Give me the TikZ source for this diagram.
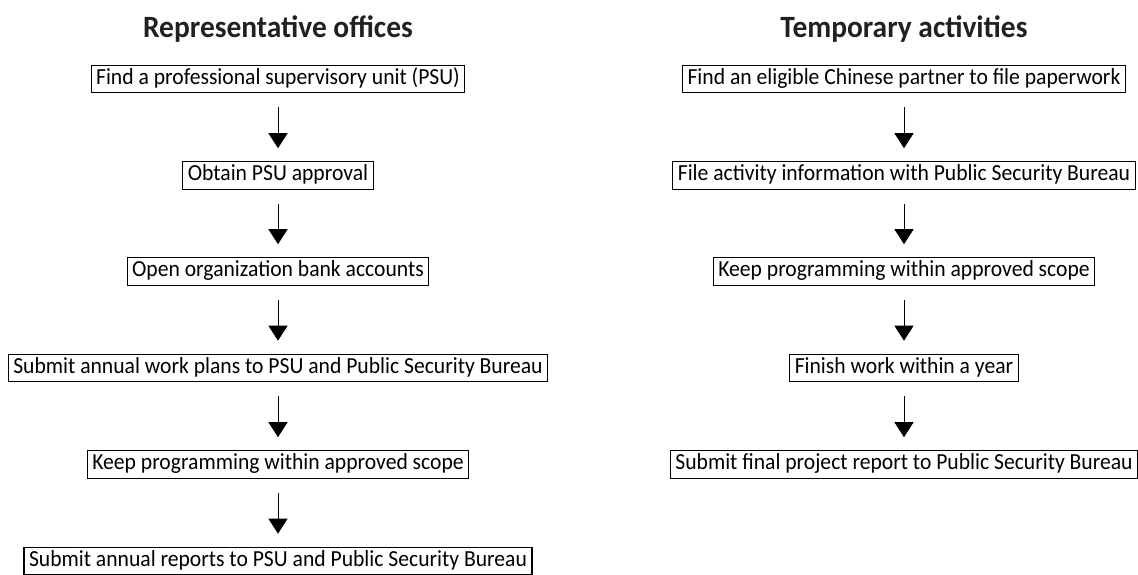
\documentclass[tikz,border=0pt]{standalone}
\usepackage{fontspec}
\setmainfont{Carlito}
\newfontfamily\boxfont[FakeStretch=0.94]{Carlito}
\newfontfamily\titlefont[FakeStretch=0.95]{Carlito Bold}
\usetikzlibrary{arrows.meta}
\tikzset{
  stepbox/.style={draw, line width=1.1pt, fill=white, font=\boxfont\fontsize{23pt}{26pt}\selectfont,
    minimum height=27.5pt, inner xsep=5pt, inner ysep=0pt, text height=15pt, text depth=4.5pt},
  title/.style={font=\titlefont\fontsize{31pt}{35pt}\selectfont, text=black!87},
  flow/.style={line width=1pt, -{Triangle[length=15pt,width=19pt]}, shorten <=14pt, shorten >=13pt}
}
\begin{document}
\begin{tikzpicture}[x=1pt,y=-1pt]
\useasboundingbox (0,0) rectangle (1138,574);
\node[title] (tl) at (278,29) {Representative offices};
\node[title] (tr) at (904,29) {Temporary activities};

\node[stepbox] (l1) at (278,79) {Find a professional supervisory unit (PSU)};
\node[stepbox] (l2) at (278,175.5) {Obtain PSU approval};
\node[stepbox] (l3) at (278,271.5) {Open organization bank accounts};
\node[stepbox] (l4) at (278,368) {Submit annual work plans to PSU and Public Security Bureau};
\node[stepbox] (l5) at (278,464.5) {Keep programming within approved scope};
\node[stepbox] (l6) at (278,561) {Submit annual reports to PSU and Public Security Bureau};

\node[stepbox] (r1) at (904,79) {Find an eligible Chinese partner to file paperwork};
\node[stepbox] (r2) at (904,175.5) {File activity information with Public Security Bureau};
\node[stepbox] (r3) at (904,271.5) {Keep programming within approved scope};
\node[stepbox] (r4) at (904,368) {Finish work within a year};
\node[stepbox] (r5) at (904,464.5) {Submit final project report to Public Security Bureau};

\foreach \a/\b in {l1/l2,l2/l3,l3/l4,l4/l5,l5/l6,r1/r2,r2/r3,r3/r4,r4/r5}
  \draw[flow] (\a.south) -- (\b.north);
\end{tikzpicture}
\end{document}
